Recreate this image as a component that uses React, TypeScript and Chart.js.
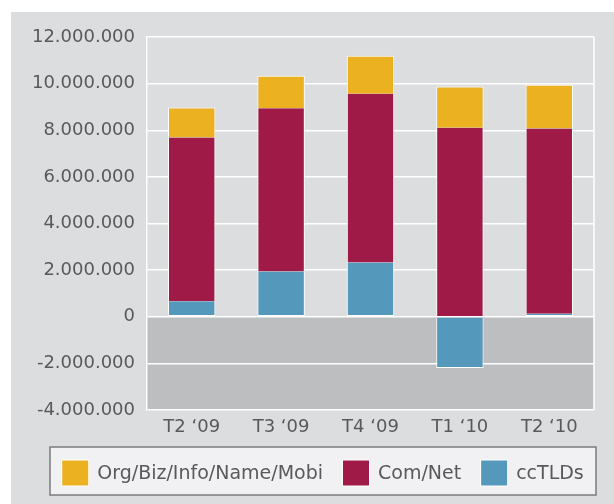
import React, { useEffect, useRef } from 'react';
import { Chart, registerables } from 'chart.js';

Chart.register(...registerables);

// ---- data ----
const categories = ['T2 ‘09', 'T3 ‘09', 'T4 ‘09', 'T1 ‘10', 'T2 ‘10'];
const seriesNames = ['ccTLDs', 'Com/Net', 'Org/Biz/Info/Name/Mobi'];
const ccTLDs = [660000, 1940000, 2330000, -2200000, 130000];
const comNet = [7030000, 7000000, 7240000, 8110000, 7940000];
const orgBiz = [1290000, 1400000, 1630000, 1770000, 1880000];
const seriesColors = ['#5499bc', '#a01a48', '#ebb120'];
const yMin = -4000000;
const yMax = 12000000;
const yStep = 2000000;

const TEXT = '#58595b';
const FONT = "'DejaVu Sans', sans-serif";

function fmt(v: number): string {
  const s = Math.round(Math.abs(v)).toString().replace(/\B(?=(\d{3})+(?!\d))/g, '.');
  return (v < 0 ? '-' : '') + s;
}

const backdrop = {
  id: 'backdrop',
  beforeDraw(chart: any) {
    const { ctx, chartArea: a, scales } = chart;
    const y = scales.y;
    ctx.save();
    ctx.fillStyle = '#ffffff';
    ctx.fillRect(0, 0, chart.width, chart.height);
    ctx.fillStyle = '#dcdddf';
    ctx.fillRect(11, 12, chart.width - 11, chart.height - 12);
    const z = y.getPixelForValue(0);
    ctx.fillStyle = '#bdbec0';
    ctx.fillRect(a.left, z, a.right - a.left, a.bottom - z);
    ctx.restore();
  },
  beforeDatasetsDraw(chart: any) {
    const { ctx, chartArea: a } = chart;
    ctx.save();
    ctx.strokeStyle = '#ffffff';
    ctx.lineWidth = 1.5;
    ctx.beginPath();
    ctx.moveTo(a.right, a.top);
    ctx.lineTo(a.right, a.bottom);
    ctx.stroke();
    ctx.restore();
  },
  afterDraw(chart: any) {
    const { ctx } = chart;
    const boxL = 50, boxR = 596, boxT = 447, boxB = 495;
    ctx.save();
    ctx.fillStyle = '#f1f1f3';
    ctx.fillRect(boxL, boxT, boxR - boxL, boxB - boxT);
    ctx.strokeStyle = '#7a7b7e';
    ctx.lineWidth = 1.5;
    ctx.strokeRect(boxL, boxT, boxR - boxL, boxB - boxT);

    const ds = chart.data.datasets.slice().reverse();
    ctx.font = `19px ${FONT}`;
    const sw = 26, sh = 25, gapText = 9, gapItem = 20;
    const widths = ds.map((d: any) => ctx.measureText(d.label).width);
    let total = 0;
    widths.forEach((w: number, i: number) => {
      total += sw + gapText + w + (i > 0 ? gapItem : 0);
    });
    let x = (boxL + boxR) / 2 - total / 2;
    const cy = (boxT + boxB) / 2 + 2;
    ds.forEach((d: any, i: number) => {
      ctx.fillStyle = '#ffffff';
      ctx.fillRect(x - 1, cy - sh / 2 - 1, sw + 2, sh + 2);
      ctx.fillStyle = d.backgroundColor;
      ctx.fillRect(x, cy - sh / 2, sw, sh);
      ctx.fillStyle = TEXT;
      ctx.textBaseline = 'middle';
      ctx.textAlign = 'left';
      ctx.fillText(d.label, x + sw + gapText, cy + 1);
      x += sw + gapText + widths[i] + gapItem;
    });
    ctx.restore();
  },
};

export default function App() {
  const ref = useRef<HTMLCanvasElement | null>(null);

  useEffect(() => {
    if (!ref.current) return;
    const values = [ccTLDs, comNet, orgBiz];
    const borders = [
      { top: 0, left: 1, right: 1, bottom: 1 },
      { top: 0, left: 1, right: 1, bottom: 0 },
      { top: 1, left: 1, right: 1, bottom: 0 },
    ];
    const chart = new Chart(ref.current, {
      type: 'bar',
      data: {
        labels: categories,
        datasets: values.map((v, i) => ({
          label: seriesNames[i],
          data: v,
          backgroundColor: seriesColors[i],
          borderColor: '#ffffff',
          borderWidth: borders[i] as any,
          borderSkipped: false as any,
          barPercentage: 0.53,
          categoryPercentage: 1,
        })),
      },
      options: {
        animation: false,
        responsive: false,
        devicePixelRatio: 1,
        layout: { padding: { left: 0, right: 20, top: 37, bottom: 64 } },
        plugins: {
          legend: { display: false },
          tooltip: { enabled: false },
        },
        scales: {
          x: {
            stacked: true,
            grid: { display: false, drawTicks: false },
            border: { display: false },
            ticks: { color: TEXT, font: { family: FONT, size: 18 }, padding: 7 },
            afterFit(scale: any) {
              scale.height = 30;
            },
          },
          y: {
            stacked: true,
            min: yMin,
            max: yMax,
            grid: { color: '#ffffff', lineWidth: 1.5, drawTicks: false },
            border: { display: true, color: '#ffffff', width: 1.5 },
            ticks: {
              stepSize: yStep,
              color: TEXT,
              font: { family: FONT, size: 18 },
              padding: 12,
              callback: (v: any) => fmt(Number(v)),
            },
            afterFit(scale: any) {
              scale.width = 147;
            },
          },
        },
      },
      plugins: [backdrop],
    });
    return () => chart.destroy();
  }, []);

  return (
    <div style={{ position: 'absolute', left: 0, top: 0, width: 614, height: 504 }}>
      <canvas ref={ref} width={614} height={504} style={{ display: 'block' }} />
    </div>
  );
}
